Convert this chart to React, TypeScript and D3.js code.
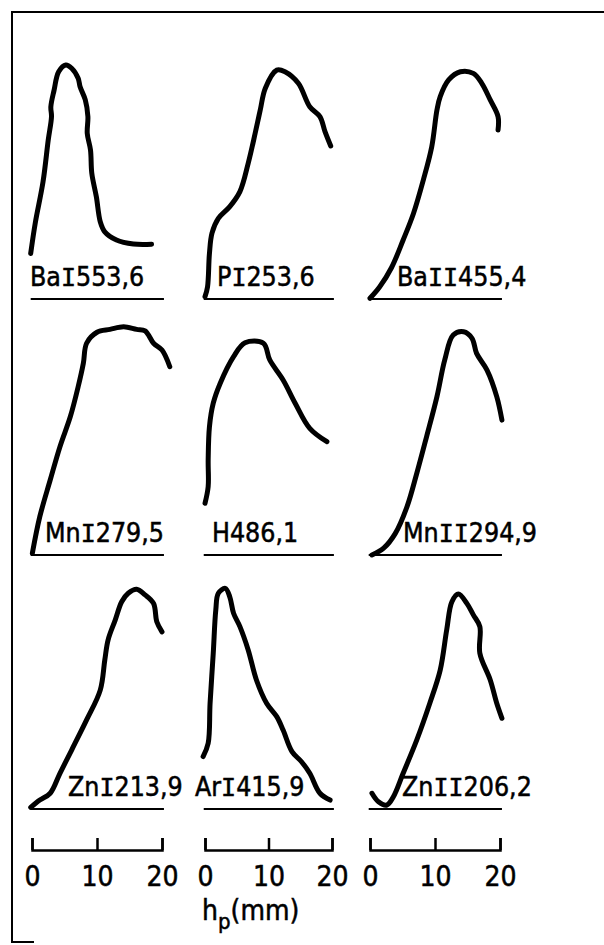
import React, { useEffect, useRef } from 'react';
import * as d3 from 'd3';

// line labels: element, ionisation stage (Roman numeral), wavelength (nm)
const elements = ['Ba', 'P', 'Ba', 'Mn', 'H', 'Mn', 'Zn', 'Ar', 'Zn'];
const stages = ['I', 'I', 'II', 'I', '', 'II', 'I', 'I', 'II'];
const wavelengths = ['553,6', '253,6', '455,4', '279,5', '486,1', '294,9', '213,9', '415,9', '206,2'];
const hTicks = [0, 10, 20];

// traced profiles: h_p (mm) and relative intensity (0..100)
const baI553_h = [-0.2, 0.5, 1.7, 2.5, 3.0, 2.9, 3.4, 4.1, 5.2, 6.1, 7.1, 7.4, 8.2, 8.6, 8.5, 9.0, 9.2, 9.9, 10.5, 11.2, 13.0, 15.6, 18.4];
const baI553_v = [19.4, 32.3, 49.9, 67.7, 77.6, 81.8, 88.9, 96.7, 99.6, 98.2, 93.9, 90.3, 84.7, 77.6, 70.5, 63.4, 53.5, 43.5, 32.9, 28.6, 25.1, 23.4, 23.3];

const pI253_h = [0, 0.4, 0.7, 1.1, 2.1, 3.9, 5.5, 6.8, 7.9, 8.7, 9.5, 11.3, 12.6, 14.7, 16.5, 18.1, 18.9, 19.8];
const pI253_v = [1.0, 5.2, 19.4, 28.0, 34.3, 39.3, 45.7, 57.7, 70.5, 80.4, 89.7, 97.4, 96.7, 91.8, 81.8, 77.6, 71.2, 65.1];

const baII455_h = [0, 1.5, 3.3, 5.1, 6.7, 8.2, 9.5, 10.3, 10.8, 12.1, 13.9, 15.9, 17.2, 18.5, 19.7, 19.7];
const baII455_v = [0.3, 5.2, 13.3, 25.1, 36.5, 50.6, 64.8, 80.4, 86.1, 93.2, 96.7, 96.0, 91.8, 84.7, 77.6, 71.9];

const mnI279_h = [0.05, 1.2, 2.8, 4.3, 5.9, 7.1, 7.9, 8.4, 10.0, 12.0, 14.1, 16.1, 17.4, 18.7, 20.0, 21.2];
const mnI279_v = [0.7, 16.3, 31.9, 46.1, 58.9, 71.6, 81.6, 90.1, 94.8, 96.0, 97.1, 96.0, 95.4, 90.1, 87.2, 80.1];

const h486_h = [0, 0.5, 0.5, 0.7, 1.3, 2.4, 4.5, 6.3, 9.2, 10.2, 12.3, 14.2, 16.5, 19.2];
const h486_v = [22.0, 29.1, 40.4, 54.6, 64.6, 73.1, 84.4, 90.3, 90.1, 83.0, 74.5, 64.6, 53.9, 48.2];

const mnII294_h = [0.3, 2.1, 3.9, 5.7, 7.2, 8.7, 10.3, 11.5, 12.8, 14.4, 15.7, 16.4, 18.0, 19.5, 20.3];
const mnII294_v = [0, 2.9, 9.2, 20.6, 34.8, 50.3, 67.4, 83.0, 93.6, 95.0, 92.2, 85.8, 78.7, 67.4, 57.4];

const znI213_h = [-0.2, 1.2, 2.8, 4.3, 6.1, 8.4, 10.5, 11.2, 11.7, 12.8, 13.8, 14.8, 16.1, 17.4, 18.7, 19.2, 20.0];
const znI213_v = [0.7, 3.8, 6.7, 15.2, 25.1, 37.9, 50.6, 63.4, 71.9, 80.4, 88.2, 91.8, 93.5, 91.1, 87.5, 79.7, 75.4];

const arI415_h = [-0.3, 0.5, 0.8, 1.3, 1.7, 2.1, 3.2, 3.9, 4.5, 5.5, 6.8, 8.1, 9.7, 11.3, 12.3, 13.7, 15.2, 16.5, 18.1, 19.7];
const arI415_v = [22.3, 28.0, 45.0, 66.3, 84.7, 91.8, 93.9, 90.3, 83.3, 77.6, 67.7, 54.9, 45.0, 39.3, 33.6, 24.4, 20.1, 15.2, 6.7, 3.8];

const znII206_h = [0.3, 1.3, 2.6, 3.6, 5.1, 7.2, 9.2, 10.8, 11.8, 12.6, 13.6, 14.9, 15.9, 16.9, 16.9, 18.5, 19.5, 20.3];
const znII206_v = [6.7, 3.1, 1.7, 5.2, 15.2, 29.4, 45.0, 59.1, 76.2, 88.2, 91.5, 87.5, 82.6, 77.6, 66.3, 54.9, 45.0, 38.6];

const profileH = [baI553_h, pI253_h, baII455_h, mnI279_h, h486_h, mnII294_h, znI213_h, arI415_h, znII206_h];
const profileV = [baI553_v, pI253_v, baII455_v, mnI279_v, h486_v, mnII294_v, znI213_v, arI415_v, znII206_v];

// layout
const W = 604;
const H = 945;
const colX = [[32, 162], [205, 332], [370, 500]];
const rowBase = [299, 555, 809];
const peakSpan = 235;
const labelDx = [-2, 12, 27, 13, 7, 33, 36, -10, 32];
const axisY = 850;
const FONT = "'DejaVu Sans Condensed', 'Liberation Sans Narrow', sans-serif";
const MONO = "'DejaVu Sans Mono', 'Liberation Mono', monospace";

function App() {
	const svgRef = useRef(null);

	useEffect(() => {
		const svg = d3.select(svgRef.current);
		svg.selectAll('*').remove();

		// frame
		svg.append('path')
			.attr('d', `M${W},12 H12 V942 H34`)
			.attr('fill', 'none')
			.attr('stroke', '#000')
			.attr('stroke-width', 2);

		const xScales = colX.map(([a, b]) => d3.scaleLinear().domain([0, 20]).range([a, b]));
		const yScales = rowBase.map(b => d3.scaleLinear().domain([0, 100]).range([b, b - peakSpan]));

		elements.forEach((el, i) => {
			const col = i % 3;
			const row = Math.floor(i / 3);
			const x = xScales[col];
			const y = yScales[row];
			const g = svg.append('g');

			// underline
			g.append('line')
				.attr('x1', x(-0.2)).attr('x2', x(20.3))
				.attr('y1', y(0)).attr('y2', y(0))
				.attr('stroke', '#000')
				.attr('stroke-width', 2.2);

			const pts = profileH[i].map((h, k) => [h, profileV[i][k]]);
			const line = d3.line()
				.x(d => x(d[0]))
				.y(d => y(d[1]))
				.curve(d3.curveCatmullRom.alpha(0.5));

			g.append('path')
				.attr('d', line(pts))
				.attr('fill', 'none')
				.attr('stroke', '#000')
				.attr('stroke-width', 5)
				.attr('stroke-linecap', 'round')
				.attr('stroke-linejoin', 'round');

			const t = g.append('text')
				.attr('x', x(0) + labelDx[i])
				.attr('y', y(0) - 13)
				.attr('font-family', FONT)
				.attr('font-size', 26.5)
				.attr('stroke', '#000')
				.attr('stroke-width', 0.5);
			t.append('tspan').text(el);
			if (stages[i]) {
				t.append('tspan')
					.attr('font-family', MONO)
					.attr('font-size', 25)
					.text(stages[i]);
			}
			t.append('tspan').text(wavelengths[i]);
		});

		// h_p axes under each column
		xScales.forEach(x => {
			const ax = svg.append('g')
				.attr('transform', `translate(0,${axisY})`)
				.call(d3.axisBottom(x).tickValues(hTicks).tickFormat(d3.format('d'))
					.tickSizeInner(-12).tickSizeOuter(-12).tickPadding(16));
			ax.attr('font-family', FONT).attr('font-size', 28);
			ax.selectAll('text').attr('stroke', '#000').attr('stroke-width', 0.5);
			ax.selectAll('path, line').attr('stroke-width', 2.5);
		});

		const xl = svg.append('text')
			.attr('x', 202)
			.attr('y', 920)
			.attr('font-family', FONT)
			.attr('font-size', 28)
			.attr('stroke', '#000')
			.attr('stroke-width', 0.5);
		xl.append('tspan').text('h');
		xl.append('tspan').attr('dy', 9).attr('font-size', 22).text('p');
		xl.append('tspan').attr('dy', -9).text('(mm)');
	}, []);

	return (
		<svg ref={svgRef} width={W} height={H}
			style={{ position: 'absolute', left: 0, top: 0, background: '#fff' }} />
	);
}

export default App;
